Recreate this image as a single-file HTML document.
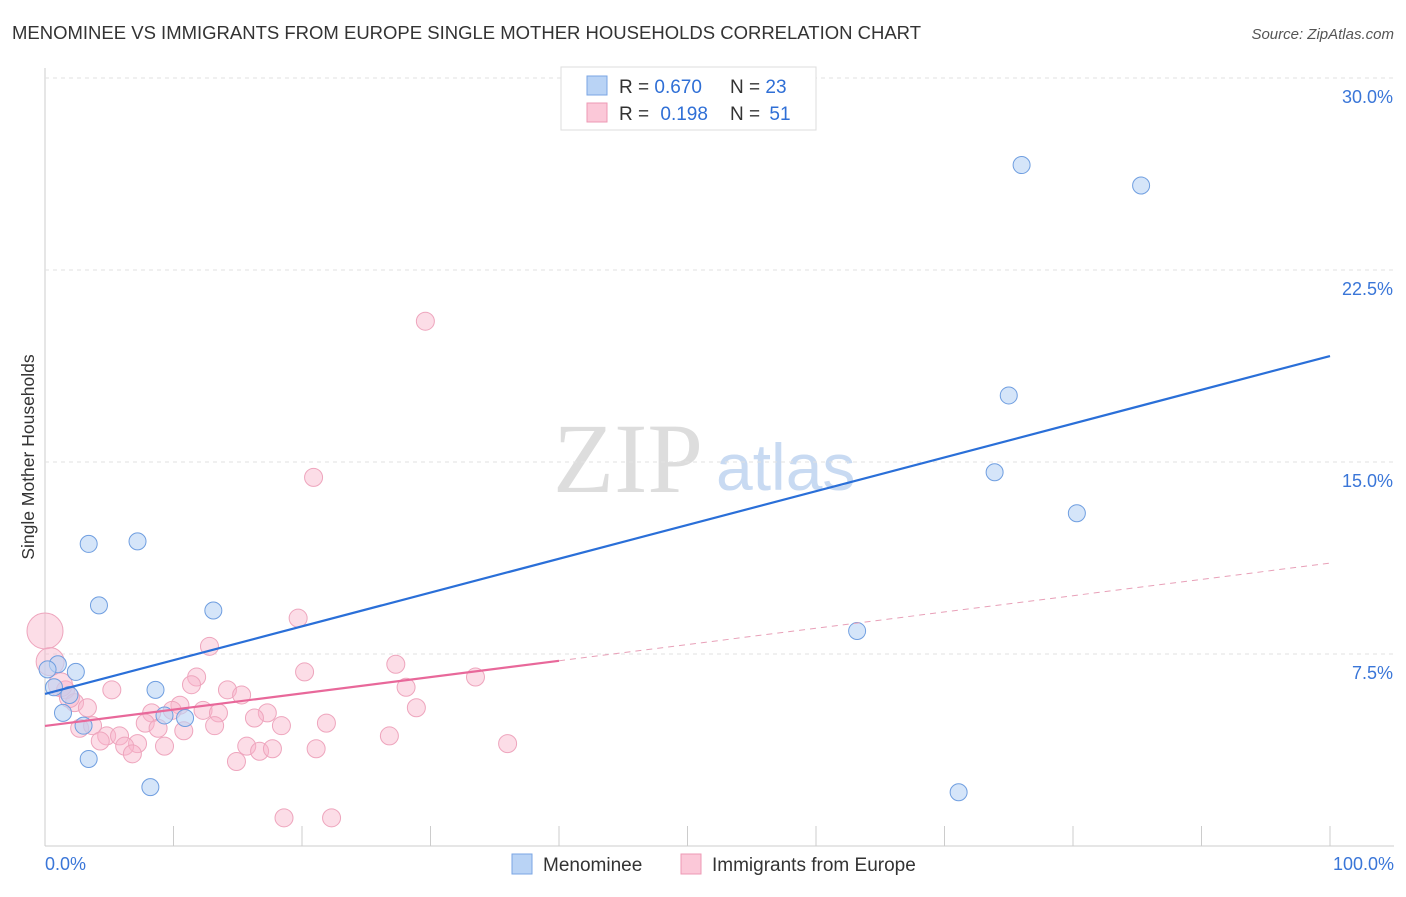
<!DOCTYPE html>
<html><head><meta charset="utf-8"><style>
body{margin:0;background:#fff;font-family:"Liberation Sans",sans-serif;}
</style></head><body>
<svg width="1406" height="892" id="chart" font-family="Liberation Sans, sans-serif">
<text x="12" y="39" font-size="18.5" fill="#333">MENOMINEE VS IMMIGRANTS FROM EUROPE SINGLE MOTHER HOUSEHOLDS CORRELATION CHART</text>
<text x="1394" y="39" font-size="15" fill="#555" font-style="italic" text-anchor="end">Source: ZipAtlas.com</text>
<text x="34" y="457" font-size="17.5" fill="#333" text-anchor="middle" transform="rotate(-90 34 457)">Single Mother Households</text>
<text x="553" y="492" font-size="100" fill="#ddd" style="font-family:'Liberation Serif',serif">ZIP</text>
<text x="716" y="490" font-size="66" fill="#c8daf2">atlas</text>
<g id="grid"></g><g id="marks"></g>
<g>
<rect x="561" y="67" width="255" height="63" fill="#fff" stroke="#ddd"/>
<rect x="587" y="76" width="20" height="19" fill="#b9d3f5" stroke="#7aa6e4"/>
<rect x="587" y="103" width="20" height="19" fill="#fbc8d8" stroke="#ee99b4"/>
<text x="619" y="93" font-size="19" fill="#333">R = <tspan fill="#2f6fd6">0.670</tspan></text>
<text x="730" y="93" font-size="19" fill="#333">N = <tspan fill="#2f6fd6">23</tspan></text>
<text x="619" y="120" font-size="19" fill="#333">R = <tspan fill="#2f6fd6" dx="6">0.198</tspan></text>
<text x="730" y="120" font-size="19" fill="#333">N = <tspan fill="#2f6fd6" dx="4">51</tspan></text>
</g>
<g>
<rect x="512" y="854" width="20" height="20" fill="#b9d3f5" stroke="#7aa6e4"/>
<text x="543" y="871" font-size="19" fill="#333">Menominee</text>
<rect x="681" y="854" width="20" height="20" fill="#fbc8d8" stroke="#ee99b4"/>
<text x="712" y="871" font-size="19" fill="#333">Immigrants from Europe</text>
</g>
<text x="45" y="870" font-size="18" fill="#3a76d8">0.0%</text>
<text x="1394" y="870" font-size="18" fill="#3a76d8" text-anchor="end">100.0%</text>
</svg>
<script>
const yTicks=[7.5,15,22.5,30];
const yTickLabels=["7.5%","15.0%","22.5%","30.0%"];
const blueX=[76.0,85.3,75.0,73.9,80.3,63.2,71.1,3.4,7.2,4.2,13.1,1.0,2.4,0.2,0.7,1.9,1.4,8.6,9.3,10.9,3.0,3.4,8.2];
const blueY=[26.6,25.8,17.6,14.6,13.0,8.4,2.1,11.8,11.9,9.4,9.2,7.1,6.8,6.9,6.2,5.9,5.2,6.1,5.1,5.0,4.7,3.4,2.3];
const pinkX=[29.6,20.9,19.7,12.8,27.3,20.2,33.5,11.8,11.4,5.2,14.2,15.3,28.1,1.6,2.3,3.3,28.9,8.3,10.5,9.9,12.3,13.5,17.3,16.3,7.8,8.8,10.8,13.2,18.4,21.9,2.7,3.7,4.8,5.8,4.3,7.2,6.2,9.3,15.7,26.8,36.0,21.1,16.7,17.7,6.8,14.9,18.6,22.3,1.2,1.9,0.0,0.4];
const pinkY=[20.5,14.4,8.9,7.8,7.1,6.8,6.6,6.6,6.3,6.1,6.1,5.9,6.2,6.1,5.6,5.4,5.4,5.2,5.5,5.3,5.3,5.2,5.2,5.0,4.8,4.6,4.5,4.7,4.7,4.8,4.6,4.7,4.3,4.3,4.1,4.0,3.9,3.9,3.9,4.3,4.0,3.8,3.7,3.8,3.6,3.3,1.1,1.1,6.3,5.8,8.4,7.2];
const pinkR=[9,9,9,9,9,9,9,9,9,9,9,9,9,9,9,9,9,9,9,9,9,9,9,9,9,9,9,9,9,9,9,9,9,9,9,9,9,9,9,9,9,9,9,9,9,9,9,9,12,10,18,14];
const blueTrend=[5.94,19.14];
const pinkTrend=[4.69,11.05];
const pinkSolidEnd=40;
const X=v=>45+v*12.85, Y=v=>846-v*25.6;
const NS="http://www.w3.org/2000/svg";
const g=document.getElementById('grid'), m=document.getElementById('marks');
function el(t,a,p){const e=document.createElementNS(NS,t);for(const k in a)e.setAttribute(k,a[k]);p.appendChild(e);return e;}
let ax=el('line',{x1:45,y1:68,x2:45,y2:846,stroke:'#ccc'},g);


let bx=el('line',{x1:45,y1:846,x2:1394,y2:846,stroke:'#ccc'},g);


for(let i=0;i<=10;i++){let t=el('line',{x1:X(i*10),x2:X(i*10),y1:826,y2:846,stroke:'#ccc'},g);

}
yTicks.forEach((v,i)=>{let l=el('line',{x1:45,x2:1394,y1:Y(v),y2:Y(v),stroke:'#e2e2e2','stroke-dasharray':'4,4'},g);


let t=el('text',{x:1393,y:Y(v)+25,'text-anchor':'end','font-size':18,fill:'#3a76d8'},g);t.textContent=yTickLabels[i];

});
pinkX.forEach((x,i)=>{let c=el('circle',{cx:X(x),cy:Y(pinkY[i]),r:pinkR[i],fill:'rgba(248,180,202,0.45)',stroke:'#eea5bd','stroke-width':1},m);

});
blueX.forEach((x,i)=>{let c=el('circle',{cx:X(x),cy:Y(blueY[i]),r:8.5,fill:'rgba(185,211,245,0.6)',stroke:'#6f9ee0','stroke-width':1},m);

});
const py=v=>pinkTrend[0]+(pinkTrend[1]-pinkTrend[0])*v/100;
let l1=el('line',{x1:X(0),y1:Y(blueTrend[0]),x2:X(100),y2:Y(blueTrend[1]),stroke:'#2a6fd8','stroke-width':2.2},m);


let l2=el('line',{x1:X(0),y1:Y(py(0)),x2:X(pinkSolidEnd),y2:Y(py(pinkSolidEnd)),stroke:'#e8689a','stroke-width':2.2},m);


let l3=el('line',{x1:X(pinkSolidEnd),y1:Y(py(pinkSolidEnd)),x2:X(100),y2:Y(py(100)),stroke:'#e8a0b8','stroke-width':1,'stroke-dasharray':'6,5'},m);


</script>
</body></html>
